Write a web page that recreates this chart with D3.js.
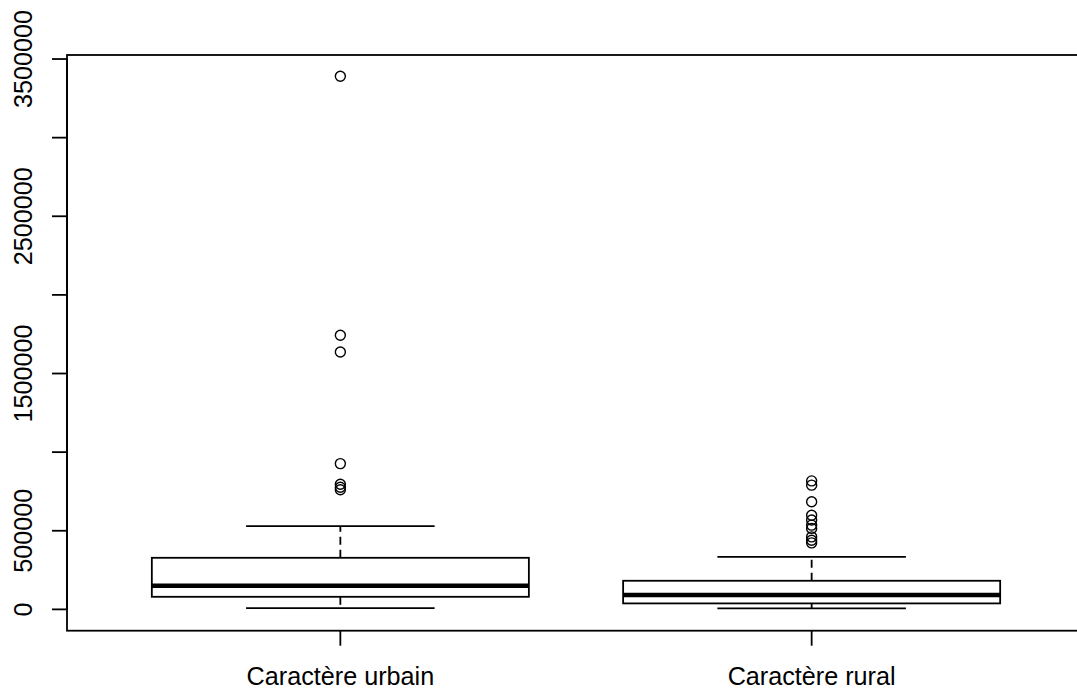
<!DOCTYPE html>
<html>
<head>
<meta charset="utf-8">
<script src="https://cdn.jsdelivr.net/npm/d3@7"></script>
<style>
  html, body { margin: 0; padding: 0; background: #fff; overflow: hidden; }
  svg { display: block; }
  text { font-family: "Liberation Sans", Arial, sans-serif; fill: #000; }
</style>
</head>
<body>
<svg id="chart" width="1077" height="690"></svg>
<script>
// Groups shown on the x axis
const categories = ["Caractère urbain", "Caractère rural"];

// Five-number summaries per group: lower whisker, Q1, median, Q3, upper whisker
const lowerWhisker = [8000, 6000];
const q1 = [80000, 38000];
const median = [150000, 91000];
const q3 = [328000, 182000];
const upperWhisker = [529000, 334000];

// Points beyond the whiskers
const outliersUrbain = [3390000, 1743000, 1637000, 927000, 796000, 777000, 761000];
const outliersRural = [817000, 790000, 684000, 599000, 568000, 536000, 515000, 461000, 440000, 423000];
const outliers = [outliersUrbain, outliersRural];

// Y axis ticks and the labels that are printed
const yTicks = [0, 500000, 1000000, 1500000, 2000000, 2500000, 3000000, 3500000];
const yLabels = [0, 500000, 1500000, 2500000, 3500000];

const svg = d3.select("#chart");

const plot = { left: 67, right: 1085, top: 55, bottom: 630.7 };

// x range: 0.5 .. n+0.5, widened by 4% on each side
const n = categories.length;
const xPad = 0.04 * n;
const x = d3.scaleLinear()
  .domain([0.5 - xPad, n + 0.5 + xPad])
  .range([plot.left, plot.right]);

// y range: extent from zero to the largest value, widened by 4% on each side
const allVals = lowerWhisker.concat(upperWhisker, outliersUrbain, outliersRural);
const yMin = Math.min(0, d3.min(allVals)), yMax = d3.max(allVals);
const yPad = 0.04 * (yMax - yMin);
const y = d3.scaleLinear()
  .domain([yMin - yPad, yMax + yPad])
  .range([plot.bottom, plot.top]);

const boxW = 0.8, capW = 0.4;
const lw = 1.8;
const fontSize = "25.2px";

const g = svg.append("g");

categories.forEach((cat, i) => {
  const cx = x(i + 1);
  const bx0 = x(i + 1 - boxW / 2), bx1 = x(i + 1 + boxW / 2);
  const sx0 = x(i + 1 - capW / 2), sx1 = x(i + 1 + capW / 2);

  // dashed whiskers, drawn from the box outward
  g.append("line")
    .attr("x1", cx).attr("x2", cx)
    .attr("y1", y(q3[i])).attr("y2", y(upperWhisker[i]))
    .attr("stroke", "#000").attr("stroke-width", lw)
    .attr("stroke-dasharray", "8,5");
  g.append("line")
    .attr("x1", cx).attr("x2", cx)
    .attr("y1", y(q1[i])).attr("y2", y(lowerWhisker[i]))
    .attr("stroke", "#000").attr("stroke-width", lw)
    .attr("stroke-dasharray", "8,5");

  // whisker caps
  [upperWhisker[i], lowerWhisker[i]].forEach(v => {
    g.append("line")
      .attr("x1", sx0).attr("x2", sx1)
      .attr("y1", y(v)).attr("y2", y(v))
      .attr("stroke", "#000").attr("stroke-width", lw);
  });

  // box
  g.append("rect")
    .attr("x", bx0).attr("y", y(q3[i]))
    .attr("width", bx1 - bx0).attr("height", y(q1[i]) - y(q3[i]))
    .attr("fill", "#fff").attr("stroke", "#000").attr("stroke-width", lw);

  // median
  g.append("line")
    .attr("x1", bx0).attr("x2", bx1)
    .attr("y1", y(median[i])).attr("y2", y(median[i]))
    .attr("stroke", "#000").attr("stroke-width", 4.5);

  // outliers
  g.selectAll(null)
    .data(outliers[i])
    .enter().append("circle")
    .attr("cx", cx).attr("cy", d => y(d))
    .attr("r", 5)
    .attr("fill", "none").attr("stroke", "#000").attr("stroke-width", 1.4);
});

// plot frame
svg.append("rect")
  .attr("x", plot.left).attr("y", plot.top)
  .attr("width", plot.right - plot.left).attr("height", plot.bottom - plot.top)
  .attr("fill", "none").attr("stroke", "#000").attr("stroke-width", lw);

// y axis
const yAxis = svg.append("g");
yAxis.append("line")
  .attr("x1", plot.left).attr("x2", plot.left)
  .attr("y1", y(yTicks[0])).attr("y2", y(yTicks[yTicks.length - 1]))
  .attr("stroke", "#000").attr("stroke-width", lw);
yAxis.selectAll(".tick")
  .data(yTicks)
  .enter().append("line")
  .attr("x1", plot.left - 15).attr("x2", plot.left)
  .attr("y1", d => y(d)).attr("y2", d => y(d))
  .attr("stroke", "#000").attr("stroke-width", lw);
yAxis.selectAll(".lab")
  .data(yLabels)
  .enter().append("text")
  .attr("transform", d => `translate(32,${y(d)}) rotate(-90)`)
  .attr("text-anchor", "middle")
  .style("font-size", fontSize)
  .text(d => d3.format("d")(d));

// x axis ticks and labels
const xAxis = svg.append("g");
categories.forEach((cat, i) => {
  xAxis.append("line")
    .attr("x1", x(i + 1)).attr("x2", x(i + 1))
    .attr("y1", plot.bottom).attr("y2", plot.bottom + 15)
    .attr("stroke", "#000").attr("stroke-width", lw);
  xAxis.append("text")
    .attr("x", x(i + 1)).attr("y", 685)
    .attr("text-anchor", "middle")
    .style("font-size", fontSize)
    .text(cat);
});
</script>
</body>
</html>
